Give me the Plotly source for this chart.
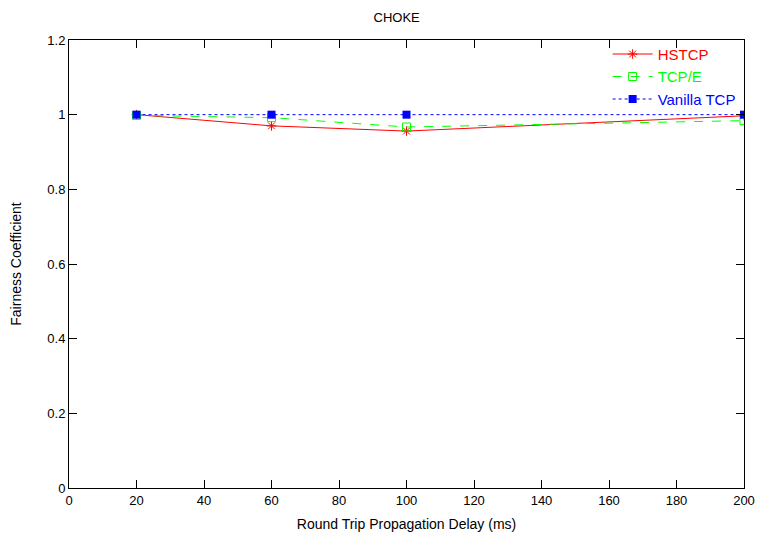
import plotly.graph_objects as go

delay = [20, 60, 100, 200]
hstcp = [1.0, 0.970, 0.956, 0.997]
tcpe = [0.998, 0.992, 0.967, 0.984]
vanilla = [1.0, 1.0, 1.0, 1.0]

x_ticks = [0, 20, 40, 60, 80, 100, 120, 140, 160, 180, 200]
y_ticks = [0, 0.2, 0.4, 0.6, 0.8, 1.0, 1.2]
y_labels = ["0", "0.2", "0.4", "0.6", "0.8", "1", "1.2"]

fig = go.Figure()
fig.add_trace(go.Scatter(x=delay, y=hstcp, mode="lines+markers",
                         name="<span style='color:#ff0000'>HSTCP</span>",
                         line=dict(color="#ff0000", width=1),
                         marker=dict(symbol="asterisk-open", size=8, color="#ff0000",
                                     line=dict(color="#ff0000", width=1))))
fig.add_trace(go.Scatter(x=delay, y=tcpe, mode="lines+markers",
                         name="<span style='color:#00ff00'>TCP/E</span>",
                         line=dict(color="#00ff00", width=1, dash="dash"),
                         marker=dict(symbol="square-open", size=8, color="#00ff00",
                                     line=dict(color="#00ff00", width=1))))
fig.add_trace(go.Scatter(x=delay, y=vanilla, mode="lines+markers",
                         name="<span style='color:#0000ff'>Vanilla TCP</span>",
                         line=dict(color="#0000ff", width=1, dash="dot"),
                         marker=dict(symbol="square", size=8, color="#0000ff")))

axis_common = dict(showgrid=False, zeroline=False, showline=True, linecolor="black",
                   linewidth=1, mirror="ticks", ticks="inside", ticklen=8,
                   tickcolor="black", tickfont=dict(size=13, color="black"),
                   automargin=False)

fig.update_layout(
    width=757, height=538, autosize=False,
    margin=dict(l=69, r=13, t=40, b=50),
    paper_bgcolor="white", plot_bgcolor="white",
    font=dict(family="Liberation Sans, Arial, sans-serif", size=13, color="black"),
    title=dict(text="CHOKE", x=0.524, xanchor="center", y=0.968, yanchor="middle",
               font=dict(size=13)),
    xaxis=dict(range=[0, 200], tickvals=x_ticks,
               title=dict(text="Round Trip Propagation Delay (ms)", standoff=12,
                          font=dict(size=14)),
               **axis_common),
    yaxis=dict(range=[0, 1.2], tickvals=y_ticks, ticktext=y_labels,
               title=dict(text="Fairness Coefficient", standoff=22,
                          font=dict(size=14)),
               **axis_common),
    legend=dict(x=0.995, y=1.005, xanchor="right", yanchor="top",
                bgcolor="rgba(0,0,0,0)", font=dict(size=15),
                tracegroupgap=0, itemwidth=40),
    showlegend=True,
)

fig.write_html("out.html",
               config={"displayModeBar": False, "responsive": False},
               post_script="document.body.style.margin='0';document.body.style.padding='0';"
                           "document.body.style.overflow='hidden';"
                           "document.documentElement.style.overflow='hidden';")
